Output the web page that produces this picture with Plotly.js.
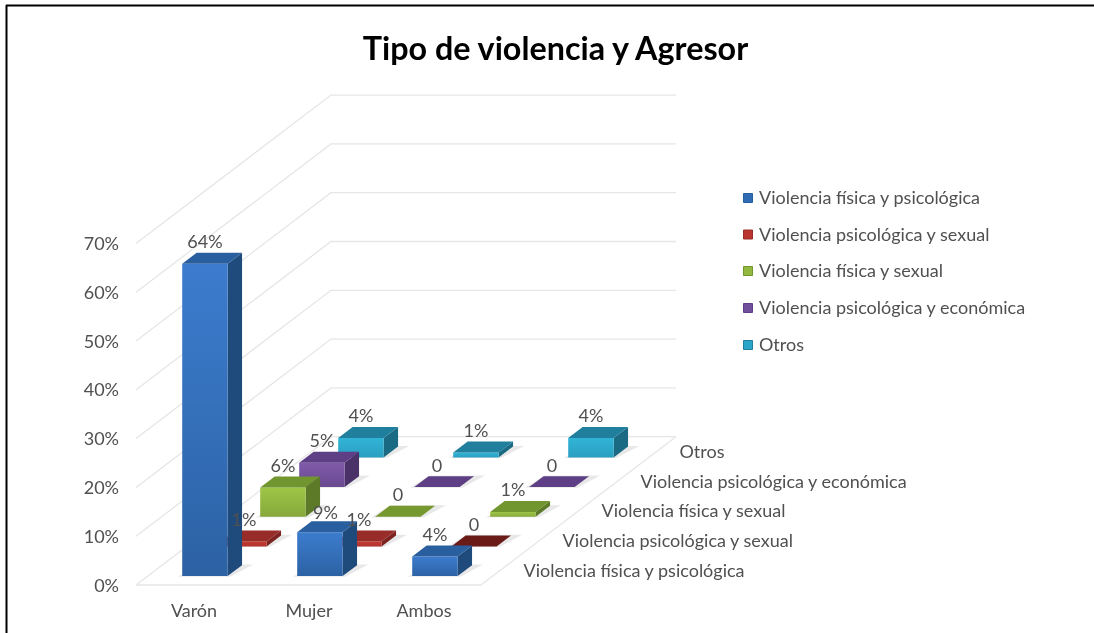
<!DOCTYPE html>
<html><head><meta charset="utf-8">
<script src="https://cdn.plot.ly/plotly-3.0.1.min.js"></script>
<style>html,body{margin:0;padding:0;background:#fff}#c{width:1094px;height:633px;filter:blur(0.4px)}</style>
</head><body><div id="c"></div>
<script>
// ---- data ----
const agresores = ['Varón', 'Mujer', 'Ambos'];
const fisicaPsicologica = [64, 9, 4];
const psicologicaSexual = [1, 1, 0];
const fisicaSexual = [6, 0, 1];
const psicologicaEconomica = [5, 0, 0];
const otros = [4, 1, 4];
const tipos = ['Violencia física y psicológica', 'Violencia psicológica y sexual', 'Violencia física y sexual', 'Violencia psicológica y económica', 'Otros'];
const series = [fisicaPsicologica, psicologicaSexual, fisicaSexual, psicologicaEconomica, otros];
const ticks = [0, 10, 20, 30, 40, 50, 60, 70];

// ---- style ----
const palette = [
  {a:'#3c7cce', b:'#2c62a4', top:'#2a5f9f', s:'#1f4a7c', z:'#2a5f9f', leg:'#2f6cb4'},
  {a:'#c4392f', b:'#b23330', top:'#982c28', s:'#7c2422', z:'#6a1b18', leg:'#bb3530'},
  {a:'#9fc646', b:'#86a83b', top:'#71952f', s:'#5c7a28', z:'#76992f', leg:'#93b840'},
  {a:'#7f5aaa', b:'#6a4990', top:'#5e3f85', s:'#4a3269', z:'#5e3f85', leg:'#71509b'},
  {a:'#31b4d8', b:'#2a9fc0', top:'#1f7f9d', s:'#1a6a84', z:'#1f7f9d', leg:'#2ba6c8'}
];
const TXT = '#505050', GRID = '#e6e6e6', FONT = 'Lato, sans-serif', FS = 18;

// ---- oblique projection of the 3-D box ----
const O = {x:136, y:585}, CW = 115, DX = 39, DY = -29.66, VH = 4.88;
const F0 = 0.30, F1 = 0.695, D0 = 0.30, D1 = 0.67;
function P(c, d, v) { return [O.x + c*CW + d*DX, O.y + d*DY - v*VH]; }
function poly(pts, color, extra) {
  const xs = pts.map(p=>p[0]), ys = pts.map(p=>p[1]);
  xs.push(xs[0]); ys.push(ys[0]);
  return Object.assign({x:xs, y:ys, mode:'lines', fill:'toself', fillcolor:color,
    line:{width:0, color:color}, hoverinfo:'skip', showlegend:false}, extra||{});
}
function seg(a, b) {
  return {x:[a[0],b[0]], y:[a[1],b[1]], mode:'lines', line:{color:GRID, width:1.3}, hoverinfo:'skip', showlegend:false};
}
const traces = [];
const nC = agresores.length, nD = tipos.length;

// walls and floor
ticks.forEach(t => {
  const pts = [P(0,0,t), P(0,nD,t), P(nC,nD,t)];
  traces.push({x:pts.map(p=>p[0]), y:pts.map(p=>p[1]), mode:'lines', line:{color:GRID, width:1.3}, hoverinfo:'skip', showlegend:false});
});
traces.push(seg(P(0,0,0), P(nC,0,0)));
traces.push(seg(P(nC,0,0), P(nC,nD,0)));

// bars, back to front and right to left
for (let d = nD-1; d >= 0; d--) {
  for (let c = nC-1; c >= 0; c--) {
    const v = series[d][c], col = palette[d];
    const x0=c+F0, x1=c+F1, d0=d+D0, d1=d+D1;
    // soft floor shadow
    traces.push(poly([P(x0-0.03,d0-0.02,0), P(x1+0.03,d0-0.02,0), P(x1+0.09,d1+0.02,0), P(x0,d1+0.02,0)], 'rgba(0,0,0,0.09)'));
    if (v > 0) {
      traces.push(poly([P(x1,d0,0), P(x1,d1,0), P(x1,d1,v), P(x1,d0,v)], col.s));
      traces.push(poly([P(x0,d0,0), P(x1,d0,0), P(x1,d0,v), P(x0,d0,v)], col.a,
        {fillgradient:{type:'vertical', colorscale:[[0,col.b],[1,col.a]]}}));
    }
    traces.push(poly([P(x0,d0,v), P(x1,d0,v), P(x1,d1,v), P(x0,d1,v)], v>0?col.top:col.z));
  }
}

// value labels
const nudge = {'0,1':[5.5,2]};
const lx=[], ly=[], lt=[];
for (let d = 0; d < nD; d++) for (let c = 0; c < nC; c++) {
  const v = series[d][c];
  const p = P(c+(F0+F1)/2, d+D0, v), n = nudge[d+','+c]||[0,0];
  lx.push(p[0]+n[0]); ly.push(p[1]-20+n[1]); lt.push(v>0 ? v+'%' : '0');
}
traces.push({x:lx, y:ly, text:lt, mode:'text', textposition:'middle center', textfont:{family:FONT,size:FS,color:TXT}, hoverinfo:'skip', showlegend:false});

// axis labels
const yp = ticks.map(t=>P(0,0,t));
traces.push({x:yp.map(p=>p[0]-17), y:yp.map(p=>p[1]+2), text:ticks.map(t=>t+'%'), mode:'text', textposition:'middle left', textfont:{family:FONT,size:FS,color:TXT}, hoverinfo:'skip', showlegend:false});
const xp = agresores.map((a,i)=>P(i+0.5,0,0));
traces.push({x:xp.map(p=>p[0]+0.5), y:xp.map(p=>p[1]+27.5), text:agresores, mode:'text', textposition:'middle center', textfont:{family:FONT,size:FS,color:TXT}, hoverinfo:'skip', showlegend:false});
const dp = tipos.map((a,i)=>P(nC,i+0.5,0));
traces.push({x:dp.map(p=>p[0]+23), y:dp.map(p=>p[1]+2), text:tipos, mode:'text', textposition:'middle right', textfont:{family:FONT,size:FS,color:TXT}, hoverinfo:'skip', showlegend:false});

// legend column
const legY = [198, 234.5, 271, 308, 345];
tipos.forEach((t,i)=>{
  traces.push({name:t, x:[748], y:[legY[i]], mode:'markers',
    marker:{symbol:'square', size:9, color:palette[i].leg, line:{width:1,color:palette[i].top}},
    hoverinfo:'skip', showlegend:false});
  traces.push({x:[759], y:[legY[i]+1.5], text:[t], mode:'text', textposition:'middle right',
    textfont:{family:FONT,size:FS,color:TXT}, hoverinfo:'skip', showlegend:false});
});

const layout = {
  width:1094, height:633, margin:{l:0,r:0,t:0,b:0}, paper_bgcolor:'#fff', plot_bgcolor:'#fff',
  showlegend:false,
  xaxis:{range:[0,1094], visible:false, fixedrange:true},
  yaxis:{range:[633,0], visible:false, fixedrange:true},
  title:{text:'Tipo de violencia y Agresor', x:555.5/1094, xanchor:'center', y:1-49/633, yanchor:'middle', font:{family:FONT,size:32.3,color:'#000',weight:700}},
  shapes:[
    {type:'line', xref:'paper', yref:'paper', x0:6.5/1094, x1:6.5/1094, y0:0, y1:1-5/633, line:{color:'#000',width:2}},
    {type:'line', xref:'paper', yref:'paper', x0:6/1094, x1:1, y0:1-5.5/633, y1:1-5.5/633, line:{color:'#000',width:2}}
  ]
};
Plotly.newPlot('c', traces, layout, {displayModeBar:false, staticPlot:true});
</script></body></html>
